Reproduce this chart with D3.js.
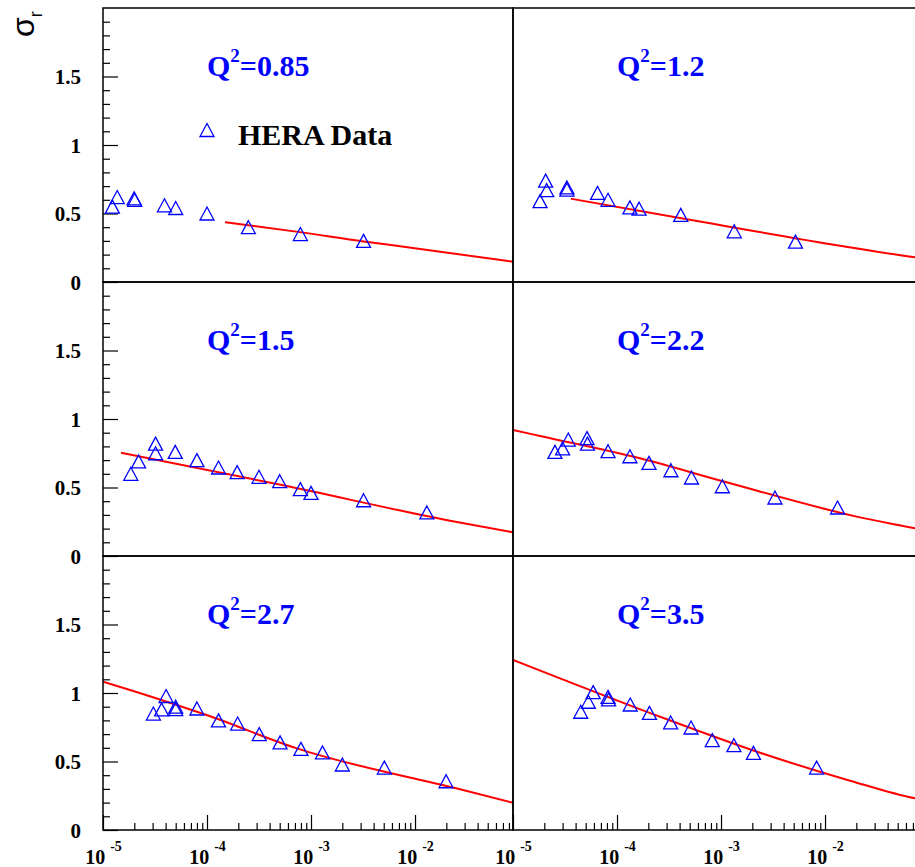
<!DOCTYPE html>
<html lang="en">
<head>
    <meta charset="UTF-8">
    <title>HERA sigma_r vs x</title>
    <script src="https://d3js.org/d3.v7.min.js"></script>
    <style>
        body, html { margin: 0; background: #fff; }
        svg { display: block; }
        .lbl { font-family: "Liberation Serif", "Times New Roman", serif; font-weight: bold; }
    </style>
</head>
<body>
<script>
    // Q^2 values of the six panels
    const q2Labels = ["0.85", "1.2", "1.5", "2.2", "2.7", "3.5"];

    // HERA data points [x, sigma_r]
    const hera085 = [[1.23e-5,0.55],[1.37e-5,0.62],[1.99e-5,0.61],[2.02e-5,0.60],[3.9e-5,0.56],[5.0e-5,0.54],
        [1.0e-4,0.50],[2.5e-4,0.40],[7.9e-4,0.35],[3.2e-3,0.30]];
    const hera12 = [[1.82e-5,0.59],[2.06e-5,0.74],[2.11e-5,0.67],[3.3e-5,0.69],[3.3e-5,0.675],[6.5e-5,0.65],
        [8.2e-5,0.60],[1.33e-4,0.545],[1.63e-4,0.535],[4.1e-4,0.49],[1.34e-3,0.37],[5.2e-3,0.295]];
    const hera15 = [[1.85e-5,0.60],[2.2e-5,0.69],[3.2e-5,0.82],[3.2e-5,0.75],[4.95e-5,0.76],[8.0e-5,0.70],
        [1.29e-4,0.646],[1.95e-4,0.612],[3.16e-4,0.578],[5.0e-4,0.546],[7.9e-4,0.488],[1.0e-3,0.461],
        [3.2e-3,0.407],[1.3e-2,0.318]];
    const hera22 = [[2.53e-5,0.76],[3.0e-5,0.785],[3.4e-5,0.85],[5.15e-5,0.86],[5.2e-5,0.82],[8.2e-5,0.765],
        [1.33e-4,0.728],[2.03e-4,0.68],[3.3e-4,0.626],[5.2e-4,0.573],[1.03e-3,0.509],[3.3e-3,0.427],[1.32e-2,0.354]];
    const hera27 = [[3.05e-5,0.85],[3.66e-5,0.88],[4.04e-5,0.978],[5.0e-5,0.90],[5.0e-5,0.882],[8.0e-5,0.887],
        [1.29e-4,0.80],[1.97e-4,0.777],[3.18e-4,0.70],[5.04e-4,0.64],[8.0e-4,0.592],[1.29e-3,0.566],
        [2.0e-3,0.478],[5.07e-3,0.456],[1.99e-2,0.356]];
    const hera35 = [[4.48e-5,0.863],[5.3e-5,0.936],[5.9e-5,1.006],[8.2e-5,0.972],[8.3e-5,0.953],[1.34e-4,0.916],
        [2.05e-4,0.855],[3.28e-4,0.785],[5.15e-4,0.748],[8.24e-4,0.656],[1.33e-3,0.619],[2.05e-3,0.563],[8.3e-3,0.456]];

    // model curves [x, sigma_r]
    const model085 = [[1.49e-4,0.436],[7.8e-4,0.364],[3.2e-3,0.296],[7.2e-3,0.261],[0.0875,0.148]];
    const model12 = [[3.6e-5,0.608],[4.7e-4,0.458],[1.39e-2,0.265],[0.0733,0.18],[0.0875,0.172]];
    const model15 = [[1.49e-5,0.754],[5.4e-4,0.516],[2.17e-2,0.258],[0.0875,0.173]];
    const model22 = [[1e-5,0.92],[1.82e-5,0.876],[1.66e-4,0.713],[1.13e-3,0.538],[2.17e-2,0.282],[0.0733,0.202],[0.0875,0.19]];
    const model27 = [[1e-5,1.083],[1.82e-5,1.022],[9.9e-5,0.839],[7.3e-4,0.596],[2.71e-2,0.297],[0.0875,0.199]];
    const model35 = [[1e-5,1.241],[2.83e-5,1.107],[2.59e-4,0.827],[2.37e-3,0.564],[1.74e-2,0.36],[0.0733,0.231],[0.0875,0.22]];

    const yMajor = [0, 0.5, 1, 1.5];
    const xDecades = [1e-5, 1e-4, 1e-3, 1e-2];

    const heraSets = [hera085, hera12, hera15, hera22, hera27, hera35];
    const modelSets = [model085, model12, model15, model22, model27, model35];

    const W = 915, H = 867;
    const padLeft = 103, padTop = 8, pw = 410, ph = 274;
    const blue = "#0000ff", red = "#ff0000";
    const tri = "M0,-6.5L7,6.5L-7,6.5Z";

    const svg = d3.select("body").append("svg")
        .attr("width", W).attr("height", H);

    q2Labels.forEach((q, i) => {
        const col = i % 2, row = Math.floor(i / 2);
        const x0 = padLeft + col * pw, y0 = padTop + row * ph;
        const x = d3.scaleLog().domain([1e-5, 0.0875]).range([x0, x0 + pw]);
        const y = d3.scaleLinear().domain([0, 2]).range([y0 + ph, y0]);

        const g = svg.append("g");
        g.append("clipPath").attr("id", "clip" + i)
            .append("rect").attr("x", x0).attr("y", y0).attr("width", pw).attr("height", ph);

        // y axis only on the left column
        if (col === 0) {
            const minor = d3.range(0, 20).map(k => k / 10).filter(v => !yMajor.includes(v));
            g.append("g").attr("transform", `translate(${x0},0)`)
                .call(d3.axisLeft(y).tickValues(minor).tickSize(-7).tickFormat(""))
                .call(a => a.select(".domain").remove())
                .call(a => a.selectAll("line").attr("stroke", "#000").attr("stroke-width", 1.2));
            g.append("g").attr("transform", `translate(${x0},0)`)
                .call(d3.axisLeft(y).tickValues(yMajor).tickSize(-15).tickPadding(22)
                    .tickFormat(d => d3.format("")(d)))
                .call(a => a.select(".domain").remove())
                .call(a => a.selectAll("line").attr("stroke", "#000").attr("stroke-width", 1.2))
                .call(a => a.selectAll("text").attr("class", "lbl").attr("font-size", 21)
                    .attr("fill", "#000").attr("dy", "0.34em"));
        }

        // x axis only on the bottom row
        if (row === 2) {
            const minorX = [];
            [1e-5, 1e-4, 1e-3, 1e-2].forEach(d => {
                for (let m = 2; m <= 9; m++) if (d * m <= 0.0875) minorX.push(d * m);
            });
            g.append("g").attr("transform", `translate(0,${y0 + ph})`)
                .call(d3.axisBottom(x).tickValues(minorX).tickSize(-7).tickFormat(""))
                .call(a => a.select(".domain").remove())
                .call(a => a.selectAll("line").attr("stroke", "#000").attr("stroke-width", 1.2));
            const ax = g.append("g").attr("transform", `translate(0,${y0 + ph})`)
                .call(d3.axisBottom(x).tickValues(xDecades).tickSize(-15).tickFormat(""))
                .call(a => a.select(".domain").remove())
                .call(a => a.selectAll("line").attr("stroke", "#000").attr("stroke-width", 1.2));
            ax.selectAll(".tick text").remove();
            ax.selectAll(".tick").append("text")
                .attr("class", "lbl").attr("text-anchor", "middle")
                .attr("y", 34).attr("fill", "#000")
                .each(function(d) {
                    const t = d3.select(this);
                    t.append("tspan").attr("font-size", 20).text("10");
                    t.append("tspan").attr("font-size", 14).attr("dx", 5).attr("dy", -13)
                        .text("-" + Math.round(-Math.log10(d)));
                });
        }

        // model curve
        g.append("path")
            .datum(modelSets[i])
            .attr("clip-path", `url(#clip${i})`)
            .attr("fill", "none").attr("stroke", red).attr("stroke-width", 2)
            .attr("d", d3.line().x(d => x(d[0])).y(d => y(d[1])).curve(d3.curveMonotoneX));

        // data points
        g.append("g").selectAll("path")
            .data(heraSets[i])
            .join("path")
            .attr("transform", d => `translate(${x(d[0])},${y(d[1])})`)
            .attr("d", tri)
            .attr("fill", "none").attr("stroke", blue).attr("stroke-width", 1.3);

        // frame
        g.append("rect").attr("x", x0).attr("y", y0).attr("width", pw).attr("height", ph)
            .attr("fill", "none").attr("stroke", "#000").attr("stroke-width", 1.5);

        // Q^2 label
        const lab = g.append("text").attr("class", "lbl").attr("fill", blue)
            .attr("x", x0 + 104).attr("y", y0 + 68);
        lab.append("tspan").attr("font-size", 30).text("Q");
        lab.append("tspan").attr("font-size", 19).attr("dy", -14).text("2");
        lab.append("tspan").attr("font-size", 30).attr("dy", 14).text("=" + q);

        // legend in the first panel
        if (i === 0) {
            g.append("path").attr("d", tri)
                .attr("transform", `translate(${x0 + 104},${y0 + 122})`)
                .attr("fill", "none").attr("stroke", blue).attr("stroke-width", 1.3);
            g.append("text").attr("class", "lbl").attr("font-size", 30).attr("fill", "#000")
                .attr("x", x0 + 135).attr("y", y0 + 137).text("HERA Data");
        }
    });

    // y axis title, rotated as in the original
    const yt = svg.append("text")
        .attr("transform", "translate(34,37) rotate(-90)")
        .attr("font-family", "'Liberation Sans', Arial, sans-serif")
        .attr("fill", "#000");
    yt.append("tspan").attr("font-size", 32).text("σ");
    yt.append("tspan").attr("font-size", 18).attr("dy", 8).text("r");
</script>
</body>
</html>
